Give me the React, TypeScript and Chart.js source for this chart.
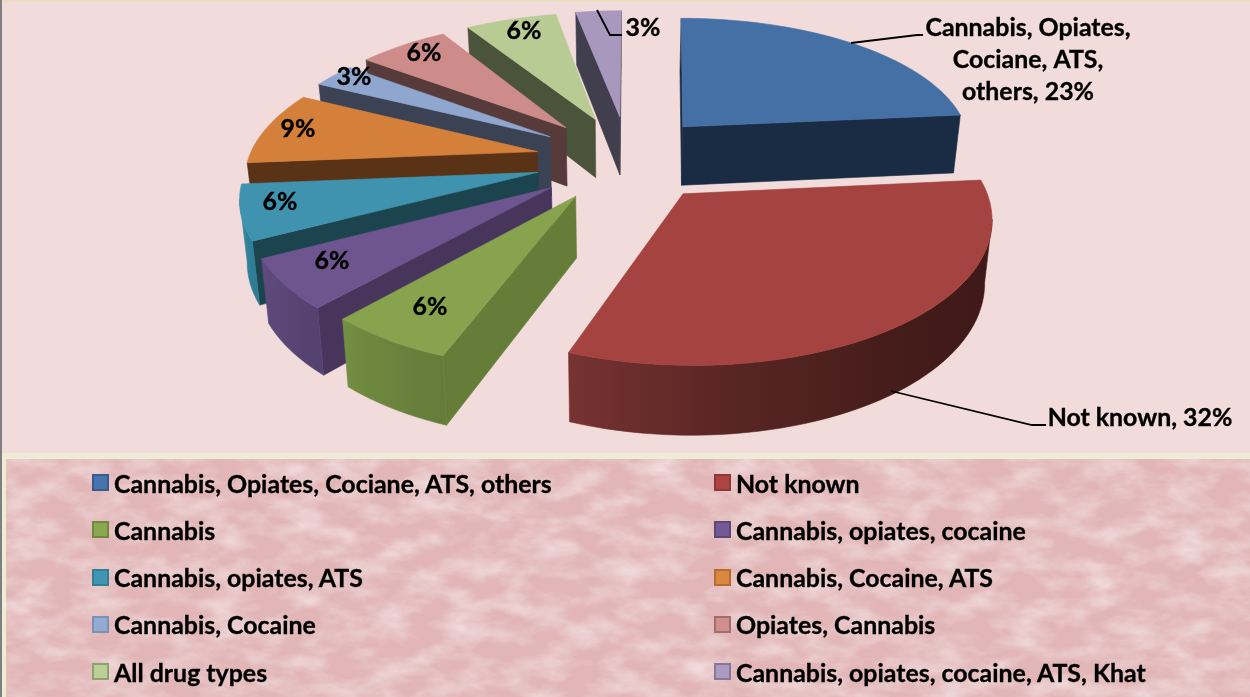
import React, { useEffect, useRef } from "react";
import { Chart, registerables } from "chart.js";

Chart.register(...registerables);

// ---- data ----
const categories = [
  "Cannabis, Opiates, Cociane, ATS, others",
  "Not known",
  "Cannabis",
  "Cannabis, opiates, cocaine",
  "Cannabis, opiates, ATS",
  "Cannabis, Cocaine, ATS",
  "Cannabis, Cocaine",
  "Opiates, Cannabis",
  "All drug types",
  "Cannabis, opiates, cocaine, ATS, Khat",
];
const shares = [23, 32, 6, 6, 6, 9, 3, 6, 6, 3];
const explosion = [96, 96, 90, 96, 96, 96, 96, 96, 96, 96];

// ---- styles ----
const topColors = ["#4470a6", "#a54340", "#87a34d", "#6f558f", "#3f93ae", "#d5803a", "#8fa6cf", "#cd8c8a", "#b8cb93", "#a898bd"];
const faceColors = ["#1a2c44", "#5a2220", "#667d3a", "#47355c", "#1b444f", "#5a3316", "#3a4254", "#563b3a", "#4b533a", "#413e4e"];
const wallStart = ["#1a2c44", "#3f1a18", "#667d3a", "#554270", "#2f7d95", "#a5632c", "#3a4254", "#563b3a", "#4b533a", "#413e4e"];
const wallEnd = ["#1a2c44", "#763331", "#738f42", "#604b7e", "#3d90ab", "#a5632c", "#3a4254", "#563b3a", "#4b533a", "#413e4e"];
const swatchFill = ["#4675ad", "#ac4542", "#8aa84f", "#735a94", "#3f96b2", "#dc8740", "#93abd3", "#d08f8d", "#bbcf96", "#ab9bc0"];
const swatchEdge = ["#385d8a", "#8c3836", "#6f8a3e", "#5c4776", "#357d91", "#b66d31", "#7a93b5", "#a16e6d", "#8fa071", "#85789a"];

const FONT = "Lato, 'Open Sans', sans-serif";
const FONT_SIZE = 24.9;
const LABEL_FONT = `bold ${FONT_SIZE}px ${FONT}`;

// Camera of the tilted pie
const CAM = {
  cx: 620,
  horizon: -766.6,
  height: 925,
  persp: 0.146,
  radius: 293,
  depth: 60,
  converge: 0.98,
  leftExplodeX: 0.88,
  frontExplodeX: 0.2,
  apexNudge: 6,
  leftRimX: 0.985,
  shearBack: 6,
  shearFront: 2,
  liftBack: 1.8,
};
// Angular distortion of the lens: [amount, centre, width] in degrees
const lensWarps = [
  [2.8, 205, 30],
  [2.6, 270, 25],
  [1.7, 83, 25],
];

// Text layout of the data labels (centres)
const labelLayout = [
  { x: 1028, y: 28, lines: ["Cannabis, Opiates,", "Cociane, ATS,", "others, 23%"] },
  { x: 1140, y: 418, lines: ["Not known, 32%"] },
  { x: 430, y: 307 },
  { x: 332, y: 261 },
  { x: 280, y: 202 },
  { x: 298, y: 129 },
  { x: 354, y: 77 },
  { x: 424, y: 53 },
  { x: 524, y: 31 },
  { x: 643, y: 28 },
];
const leaders: Record<number, number[][]> = {
  0: [[851, 43], [917, 35], [923, 35]],
  1: [[891, 391], [1032, 425], [1046, 425]],
  9: [[597, 10], [610, 35], [622, 35]],
};

function project(u: number, a: number) {
  const s = 1 / (1 + CAM.persp * a);
  const shear = a > 0 ? CAM.shearBack * a : CAM.shearFront * a;
  return {
    x: CAM.cx + u * CAM.radius * s + shear,
    y: CAM.horizon + CAM.height * s + CAM.liftBack * Math.max(a, 0),
    s,
  };
}
function lower(p: { x: number; y: number; s: number }) {
  return { x: CAM.cx + (p.x - CAM.cx) * CAM.converge, y: p.y + CAM.depth * Math.pow(p.s, 0.75), s: p.s };
}
function warp(theta: number) {
  const deg = (theta * 180) / Math.PI;
  let out = deg;
  for (const [amt, at, w] of lensWarps) {
    const e = (deg - at) / w;
    out += amt * Math.exp(-e * e);
  }
  return (out * Math.PI) / 180;
}
function hex(c: string) {
  return [1, 3, 5].map((i) => parseInt(c.slice(i, i + 2), 16));
}
function lerpColor(c0: string, c1: string, t: number) {
  const a = hex(c0);
  const b = hex(c1);
  return `rgb(${a.map((v, i) => Math.round(v + (b[i] - v) * t)).join(",")})`;
}
function poly(ctx: CanvasRenderingContext2D, pts: { x: number; y: number }[], color: any) {
  ctx.beginPath();
  pts.forEach((p, i) => (i ? ctx.lineTo(p.x, p.y) : ctx.moveTo(p.x, p.y)));
  ctx.closePath();
  ctx.fillStyle = color;
  ctx.strokeStyle = color;
  ctx.lineWidth = 0.6;
  ctx.fill();
  ctx.stroke();
}

const pie3d = {
  id: "pie3d",
  beforeDatasetsDraw(chart: any) {
    const ctx: CanvasRenderingContext2D = chart.ctx;
    const meta = chart.getDatasetMeta(0);
    const slices = meta.data.map((arc: any, i: number) => {
      const th0 = arc.startAngle + Math.PI / 2;
      const th1 = arc.endAngle + Math.PI / 2;
      const mid = (th0 + th1) / 2;
      const d = arc.options.offset / CAM.radius;
      const sinM = Math.sin(mid);
      const cosM = Math.cos(mid);
      const fx = sinM < 0 ? CAM.leftExplodeX + CAM.frontExplodeX * Math.pow(Math.max(-cosM, 0), 6) : 1;
      const nudge = sinM < 0 ? (CAM.apexNudge / CAM.radius) * Math.pow(Math.max(cosM, 0), 8) : 0;
      const ou = d * sinM * fx;
      const oa = d * cosM;
      const apex = project(ou + nudge, oa);
      const n = Math.max(4, Math.round(((th1 - th0) * 180) / Math.PI / 2));
      const rim = [];
      for (let k = 0; k <= n; k++) {
        const t = warp(th0 + ((th1 - th0) * k) / n);
        const st = Math.sin(t);
        rim.push(project(ou + st * (st < 0 ? CAM.leftRimX : 1), oa + Math.cos(t)));
      }
      return { i, apex, rim };
    });
    slices.sort((p: any, q: any) => p.apex.y - q.apex.y);

    for (const { i, apex, rim } of slices) {
      const face = (a: any, b: any, color: string) => {
        if (b.x < a.x) poly(ctx, [a, b, lower(b), lower(a)], color);
      };
      face(apex, rim[0], faceColors[i]);
      face(rim[rim.length - 1], apex, faceColors[i]);
      // outer wall: the run of rim points that faces the viewer
      const run: any[] = [];
      for (let k = 0; k < rim.length - 1; k++) {
        if (rim[k + 1].x < rim[k].x) {
          if (!run.length) run.push(rim[k]);
          run.push(rim[k + 1]);
        }
      }
      if (run.length > 1) {
        const x0 = run[0].x;
        const x1 = run[run.length - 1].x;
        const g = ctx.createLinearGradient(x0, 0, x1, 0);
        for (let k = 0; k <= 8; k++) {
          const t = k / 8;
          g.addColorStop(t, lerpColor(wallStart[i], wallEnd[i], Math.pow(t, 1.5)));
        }
        poly(ctx, [...run, ...run.map(lower).reverse()], g);
      }
      poly(ctx, [apex, ...rim], topColors[i]);
    }

    // leader lines
    ctx.strokeStyle = "#000";
    ctx.lineWidth = 1.8;
    Object.values(leaders).forEach((pts) => {
      ctx.beginPath();
      pts.forEach((p, k) => (k ? ctx.lineTo(p[0], p[1]) : ctx.moveTo(p[0], p[1])));
      ctx.stroke();
    });

    // data labels
    ctx.fillStyle = "#000";
    ctx.strokeStyle = "#000";
    ctx.lineWidth = 0.35;
    ctx.font = LABEL_FONT;
    ctx.textAlign = "center";
    ctx.textBaseline = "middle";
    labelLayout.forEach((l: any, i) => {
      const lines = l.lines ?? [`${shares[i]}%`];
      lines.forEach((t: string, k: number) => {
        ctx.fillText(t, l.x, l.y + k * 32);
        ctx.strokeText(t, l.x, l.y + k * 32);
      });
    });
    return false;
  },
};

const noise =
  "url(\"data:image/svg+xml;utf8," +
  encodeURIComponent(
    "<svg xmlns='http://www.w3.org/2000/svg' width='1250' height='240'><filter id='n' x='0' y='0' width='100%' height='100%'><feTurbulence type='fractalNoise' baseFrequency='0.025 0.05' numOctaves='4' seed='7'/><feColorMatrix values='0 0 0 0 1 0 0 0 0 1 0 0 0 0 1 1.0 0 0 0 -0.38'/></filter><rect width='1250' height='240' filter='url(#n)'/></svg>"
  ) +
  "\")";

export default function App() {
  const ref = useRef<HTMLCanvasElement>(null);
  useEffect(() => {
    const chart = new Chart(ref.current!, {
      type: "pie",
      data: {
        labels: categories,
        datasets: [{ data: shares, backgroundColor: topColors, offset: explosion, borderWidth: 0 }],
      },
      options: {
        responsive: false,
        animation: false,
        plugins: { legend: { display: false }, tooltip: { enabled: false } },
      },
      plugins: [pie3d],
    } as any);
    return () => chart.destroy();
  }, []);

  return (
    <div style={{ position: "absolute", left: 0, top: 0, width: 1250, height: 697, overflow: "hidden", background: "#f2dcdb", fontFamily: FONT }}>
      <div style={{ position: "absolute", left: 0, top: 0, width: 1250, height: 2, background: "#e9dfc0" }} />
      <div style={{ position: "absolute", left: 0, top: 0, width: 2, height: 697, background: "#7f7f7f" }} />
      <div style={{ position: "absolute", left: 2, top: 453, width: 1248, height: 6, background: "#efecd6" }} />
      <div style={{ position: "absolute", left: 2, top: 453, width: 4, height: 244, background: "#efecd6" }} />
      <div
        style={{
          position: "absolute",
          left: 6,
          top: 459,
          width: 1244,
          height: 238,
          backgroundColor: "#e2b6b7",
          backgroundImage: noise,
        }}
      />
      <canvas ref={ref} width={1250} height={697} style={{ position: "absolute", left: 0, top: 0, display: "block" }} />
      {categories.map((c, i) => {
        const col = i % 2;
        const row = Math.floor(i / 2);
        const top = 482.5 + row * 47.25;
        const x = col ? 714 : 92;
        return (
          <div key={c} style={{ position: "absolute", left: x, top: top - 15, height: 30, display: "flex", alignItems: "center", whiteSpace: "nowrap" }}>
            <span style={{ width: 13, height: 13, boxSizing: "content-box", background: swatchFill[i], border: `2px solid ${swatchEdge[i]}`, display: "inline-block" }} />
            <span style={{ marginLeft: 5, fontSize: FONT_SIZE, fontWeight: 700, color: "#000", WebkitTextStroke: "0.35px #000" }}>{c}</span>
          </div>
        );
      })}
    </div>
  );
}
